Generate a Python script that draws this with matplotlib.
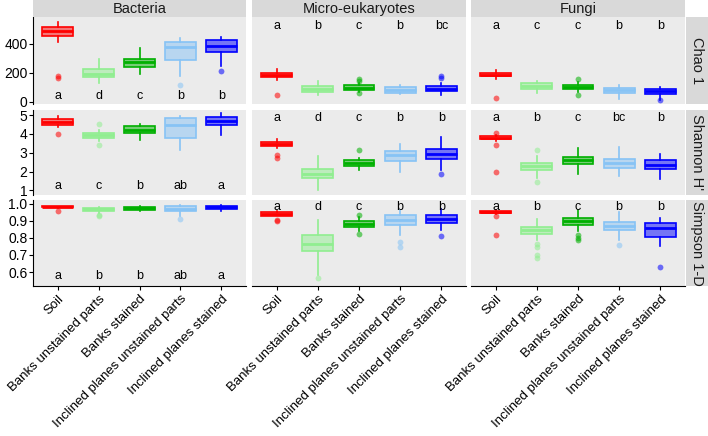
import matplotlib
matplotlib.use("Agg")
import matplotlib.pyplot as plt
from matplotlib.colors import to_rgba

plt.rcParams['font.family'] = ['Liberation Sans', 'DejaVu Sans']

categories = ["Soil", "Banks unstained parts", "Banks stained",
              "Inclined planes unstained parts", "Inclined planes stained"]
colors = ["#FF0000", "#90EE90", "#00B000", "#87C3F5", "#0000FF"]
kingdoms = ["Bacteria", "Micro-eukaryotes", "Fungi"]
metrics = ["Chao 1", "Shannon H'", "Simpson 1-D"]

# box stats per group: [whisker low, q1, median, q3, whisker high]
bac_chao = [[416, 457, 490, 516, 550], [129, 170, 195, 226, 294],
            [193, 239, 276, 299, 370], [179, 292, 379, 412, 444],
            [250, 345, 388, 426, 451]]
bac_chao_out = [[178, 162], [], [], [115], [216]]
bac_chao_let = ["a", "d", "c", "b", "b"]

mic_chao = [[150, 172, 186, 200, 226], [46, 69, 90, 110, 147],
            [70, 83, 99, 115, 130], [55, 64, 83, 101, 119],
            [46, 74, 92, 110, 133]]
mic_chao_out = [[50], [], [160, 145, 60], [], [182, 165]]
mic_chao_let = ["a", "b", "c", "b", "bc"]

fun_chao = [[160, 176, 188, 200, 220], [60, 88, 108, 128, 147],
            [69, 88, 101, 117, 138], [19, 60, 81, 97, 119],
            [14, 55, 78, 92, 106]]
fun_chao_out = [[28], [], [159, 50], [], [14]]
fun_chao_let = ["a", "c", "c", "b", "b"]

bac_shan = [[4.36, 4.49, 4.63, 4.77, 4.95], [3.6, 3.77, 3.92, 4.04, 4.2],
            [3.67, 4.06, 4.2, 4.40, 4.52], [3.13, 3.76, 4.47, 4.82, 4.93],
            [3.95, 4.45, 4.70, 4.88, 5.09]]
bac_shan_out = [[4.02], [4.54, 3.4], [], [], []]
bac_shan_let = ["a", "c", "b", "ab", "a"]

mic_shan = [[3.28, 3.36, 3.48, 3.58, 3.74], [1.05, 1.64, 1.89, 2.16, 2.81],
            [2.11, 2.30, 2.44, 2.60, 2.72], [1.98, 2.56, 2.87, 3.10, 3.45],
            [2.07, 2.65, 2.96, 3.22, 3.84]]
mic_shan_out = [[2.87, 2.72], [], [3.13], [], [1.89]]
mic_shan_let = ["a", "d", "c", "b", "b"]

fun_shan = [[3.6, 3.72, 3.80, 3.88, 3.95], [1.68, 2.10, 2.28, 2.46, 2.81],
            [1.89, 2.39, 2.60, 2.78, 3.28], [1.75, 2.21, 2.46, 2.69, 3.31],
            [1.62, 2.12, 2.37, 2.60, 2.92]]
fun_shan_out = [[4.06, 3.42, 1.98], [3.13, 1.44], [], [], []]
fun_shan_let = ["a", "b", "c", "bc", "b"]

bac_simp = [[0.975, 0.978, 0.981, 0.985, 0.988], [0.944, 0.959, 0.966, 0.973, 0.983],
            [0.955, 0.963, 0.972, 0.981, 0.985], [0.930, 0.955, 0.969, 0.984, 0.990],
            [0.955, 0.971, 0.978, 0.988, 0.992]]
bac_simp_out = [[0.958], [0.936, 0.929], [], [0.913], []]
bac_simp_let = ["a", "b", "b", "ab", "a"]

mic_simp = [[0.925, 0.930, 0.940, 0.950, 0.955], [0.583, 0.722, 0.762, 0.818, 0.905],
            [0.840, 0.863, 0.880, 0.896, 0.920], [0.815, 0.877, 0.907, 0.936, 0.960],
            [0.843, 0.886, 0.911, 0.936, 0.969]]
mic_simp_out = [[0.905, 0.898], [0.564], [0.936, 0.824], [0.776, 0.747], [0.809]]
mic_simp_let = ["a", "d", "c", "b", "b"]

fun_simp = [[0.940, 0.946, 0.950, 0.955, 0.960], [0.786, 0.824, 0.843, 0.863, 0.911],
            [0.840, 0.877, 0.896, 0.915, 0.960], [0.786, 0.848, 0.868, 0.892, 0.950],
            [0.751, 0.805, 0.857, 0.888, 0.917]]
fun_simp_out = [[0.929, 0.814], [0.766, 0.747, 0.699, 0.685], [0.814, 0.80, 0.786], [0.76], [0.631]]
fun_simp_let = ["a", "b", "c", "b", "b"]

panels = [
    [(bac_chao, bac_chao_out, bac_chao_let), (mic_chao, mic_chao_out, mic_chao_let), (fun_chao, fun_chao_out, fun_chao_let)],
    [(bac_shan, bac_shan_out, bac_shan_let), (mic_shan, mic_shan_out, mic_shan_let), (fun_shan, fun_shan_out, fun_shan_let)],
    [(bac_simp, bac_simp_out, bac_simp_let), (mic_simp, mic_simp_out, mic_simp_let), (fun_simp, fun_simp_out, fun_simp_let)],
]

ylims = [(-14, 586), (0.76, 5.27), (0.519, 1.021)]
yticks = [[0, 200, 400], [1, 2, 3, 4, 5], [0.6, 0.7, 0.8, 0.9, 1.0]]
yticklabels = [["0", "200", "400"], ["1", "2", "3", "4", "5"], ["0.6", "0.7", "0.8", "0.9", "1.0"]]
# letter heights: bacteria at the bottom, others at the top
letter_y = [[40, 524, 524], [1.23, 4.86, 4.86], [0.58, 0.979, 0.979]]

W, H = 708, 436
fig = plt.figure(figsize=(W / 100, H / 100), dpi=100)

cols_px = [(33, 246), (252, 466), (471, 685)]
rows_px = [(17, 104), (110, 195), (200, 286)]

def px_axes(x0, x1, y0, y1):
    return fig.add_axes([x0 / W, 1 - y1 / H, (x1 - x0) / W, (y1 - y0) / H])

for r in range(3):
    for c in range(3):
        stats5, outs, lets = panels[r][c]
        ax = px_axes(cols_px[c][0], cols_px[c][1], rows_px[r][0], rows_px[r][1])
        ax.set_facecolor("#EBEBEB")
        for i in range(5):
            lo, q1, med, q3, hi = stats5[i]
            st = dict(whislo=lo, q1=q1, med=med, q3=q3, whishi=hi, fliers=outs[i])
            col = colors[i]
            ax.bxp([st], positions=[i], widths=0.75, patch_artist=True, showcaps=False,
                   boxprops=dict(facecolor=to_rgba(col, 0.5), edgecolor=col, linewidth=1.2),
                   medianprops=dict(color=col, linewidth=2),
                   whiskerprops=dict(color=col, linewidth=1.2),
                   flierprops=dict(marker="o", markerfacecolor=to_rgba(col, 0.55),
                                   markeredgecolor="none", markersize=4.2))
            ax.text(i, letter_y[r][c], lets[i], ha="center", va="center", fontsize=9, color="black")
        ax.set_xlim(-0.6, 4.6)
        ax.set_ylim(*ylims[r])
        for s in ["top", "right", "left", "bottom"]:
            ax.spines[s].set_visible(False)
        if c == 0:
            ax.spines["left"].set_visible(True)
            ax.spines["left"].set_color("black")
            ax.set_yticks(yticks[r])
            ax.set_yticklabels(yticklabels[r], fontsize=10)
            ax.tick_params(axis="y", length=3, width=0.8, pad=1, colors="black")
        else:
            ax.set_yticks([])
        if r == 2:
            ax.spines["bottom"].set_visible(True)
            ax.spines["bottom"].set_color("black")
            ax.set_xticks(range(5))
            ax.set_xticklabels(categories, rotation=45, ha="right", rotation_mode="anchor", fontsize=9.5)
            ax.tick_params(axis="x", length=3, width=0.8, pad=2, colors="black")
        else:
            ax.set_xticks([])

# top strips
for c in range(3):
    sax = px_axes(cols_px[c][0], cols_px[c][1], 0, 17)
    sax.set_facecolor("#D9D9D9")
    sax.set_xticks([])
    sax.set_yticks([])
    for s in sax.spines.values():
        s.set_visible(False)
    sax.text(0.5, 0.45, kingdoms[c], ha="center", va="center", fontsize=10.5,
             color="#1A1A1A", transform=sax.transAxes)

# right strips
for r in range(3):
    sax = px_axes(686, 708, rows_px[r][0], rows_px[r][1])
    sax.set_facecolor("#D9D9D9")
    sax.set_xticks([])
    sax.set_yticks([])
    for s in sax.spines.values():
        s.set_visible(False)
    sax.text(0.5, 0.5, metrics[r], ha="center", va="center", rotation=-90, fontsize=10.5,
             color="#1A1A1A", transform=sax.transAxes)

fig.savefig("out.png", dpi=100)
